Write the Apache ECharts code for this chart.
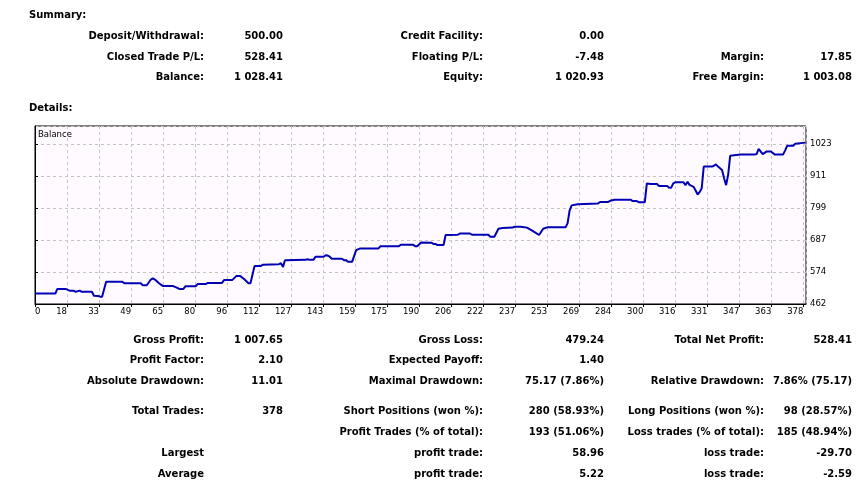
<!DOCTYPE html>
<html>
<head>
<meta charset="utf-8">
<script src="https://cdn.jsdelivr.net/npm/echarts@6/dist/echarts.min.js"></script>
<style>
html,body{margin:0;padding:0;background:#fff;}
#c{width:865px;height:486px;}
</style>
</head>
<body>
<div id="c"></div>
<script>
// ---- data ----
const tradeIdx = [0,10,11,15,17,19,20,22,23,28,29,31,32,33,35,43,44,52,53,55,57,58,59,61,63,68,70,71,73,74,79,80,84,85,92,93,97,99,101,103,105,106,108,111,112,120,121,122,123,133,134,135,137,138,142,143,144,145,146,151,152,153,154,156,158,160,169,170,179,180,186,187,188,190,195,196,197,198,201,202,208,209,214,215,223,224,226,228,230,235,236,239,242,245,248,250,252,261,262,263,264,267,277,278,282,283,285,293,294,296,297,300,301,303,306,307,311,312,313,314,315,319,320,321,322,324,325,326,327,328,329,333,334,335,336,338,339,340,341,342,347,354,355,356,358,360,362,364,368,369,370,373,374,379];
const balance = [499,499,515,515,509,509,505,509,505,505,491,490,488,488,540,540,535,535,528,528,548,552,548,535,525,525,519,515,515,524,524,532,532,536,536,546,546,560,560,549,535,535,595,595,600,602,605,592,616,617,619,617,617,628,628,633,632,628,621,621,616,616,610,610,651,657,657,665,665,670,670,665,665,678,677,673,673,669,669,704,705,709,709,705,705,698,698,726,729,730,733,733,730,718,704,726,731,731,745,790,808,812,815,820,820,824,828,828,823,823,819,819,885,883,883,876,876,870,870,885,889,889,879,891,880,873,860,846,855,868,944,944,947,952,944,932,903,879,915,982,986,986,988,1006,988,997,997,986,986,1000,1017,1017,1024,1028];
const xTickLabels = ['0','18','33','49','65','80','96','112','127','143','159','175','190','206','222','237','253','269','284','300','316','331','347','363','378'];
const yTickLabels = ['462','574','687','799','911','1023'];

const summaryTitle = 'Summary:';
const detailsTitle = 'Details:';
const summaryRows = [
  [['Deposit/Withdrawal:','500.00'],['Credit Facility:','0.00'],null],
  [['Closed Trade P/L:','528.41'],['Floating P/L:','-7.48'],['Margin:','17.85']],
  [['Balance:','1 028.41'],['Equity:','1 020.93'],['Free Margin:','1 003.08']]
];
const detailRows = [
  [['Gross Profit:','1 007.65'],['Gross Loss:','479.24'],['Total Net Profit:','528.41']],
  [['Profit Factor:','2.10'],['Expected Payoff:','1.40'],null],
  [['Absolute Drawdown:','11.01'],['Maximal Drawdown:','75.17 (7.86%)'],['Relative Drawdown:','7.86% (75.17)']],
  [['Total Trades:','378'],['Short Positions (won %):','280 (58.93%)'],['Long Positions (won %):','98 (28.57%)']],
  [null,['Profit Trades (% of total):','193 (51.06%)'],['Loss trades (% of total):','185 (48.94%)']],
  [['Largest',''],['profit trade:','58.96'],['loss trade:','-29.70']],
  [['Average',''],['profit trade:','5.22'],['loss trade:','-2.59']]
];

// ---- layout ----
const labelRight = [204, 483, 764];
const valueRight = [283, 604, 852];
const summaryY = [36, 57, 77];
const detailY = [340, 360, 381, 411, 432, 453, 474];
const boldFont = {fontFamily:'"DejaVu Sans"', fontWeight:'bold', fontSize:10, fill:'#000'};

const graphics = [];
function addText(t, x, y, align, extra){
  graphics.push({type:'text', silent:true, style:Object.assign({text:t, x:x, y:y, align:align, verticalAlign:'middle'}, boldFont, extra||{})});
}
addText(summaryTitle, 29, 15, 'left');
addText(detailsTitle, 29, 108, 'left');
function addRows(rows, ys){
  rows.forEach((row, r) => {
    row.forEach((cell, c) => {
      if (!cell) return;
      addText(cell[0], labelRight[c], ys[r], 'right');
      if (cell[1]) addText(cell[1], valueRight[c], ys[r], 'right');
    });
  });
}
addRows(summaryRows, summaryY);
addRows(detailRows, detailY);
graphics.push({type:'text', silent:true, z:10, style:{text:'Balance', x:38, y:135, align:'left', verticalAlign:'middle', fontFamily:'"DejaVu Sans"', fontSize:8.5, fill:'#000'}});

const X_STEP = 15.75, Y_MIN = 462.2, Y_STEP = 112.2;

const chart = echarts.init(document.getElementById('c'));
chart.setOption({
  animation:false,
  backgroundColor:'#fff',
  grid:{left:35, right:59, top:126, bottom:182, show:true, backgroundColor:'#FFFAFF', borderColor:'#000', borderWidth:1},
  xAxis:{
    type:'value', min:0, max:379.3, interval:X_STEP,
    axisLine:{show:true, onZero:false, lineStyle:{color:'#000', width:1}},
    axisTick:{show:true, length:3, lineStyle:{color:'#000'}},
    splitLine:{show:true, lineStyle:{color:'#C8C2C8', type:[3,3], width:1}},
    axisLabel:{
      margin:3, align:'right', alignMinLabel:'left', showMaxLabel:false,
      color:'#000', fontFamily:'"DejaVu Sans"', fontSize:8.5,
      formatter:v => { const k = Math.round(v / X_STEP); return xTickLabels[k] !== undefined ? xTickLabels[k] : ''; }
    }
  },
  yAxis:{
    type:'value', position:'right', min:Y_MIN, max:1086.3, interval:Y_STEP,
    axisLine:{show:true, lineStyle:{color:'#000', width:1}},
    axisTick:{show:true, length:3, lineStyle:{color:'#000'}},
    splitLine:{show:true, lineStyle:{color:'#C8C2C8', type:[3,3], width:1}},
    axisLabel:{
      margin:4, showMaxLabel:false, color:'#000', fontFamily:'"DejaVu Sans"', fontSize:8.5,
      formatter:v => { const k = Math.round((v - Y_MIN) / Y_STEP); return yTickLabels[k] !== undefined ? yTickLabels[k] : ''; }
    }
  },
  series:[{
    type:'line', data:tradeIdx.map((x,i)=>[x, balance[i]]),
    symbol:'none', smooth:false, clip:true,
    lineStyle:{color:'#0000B4', width:2}
  }],
  graphic:graphics
});
</script>
</body>
</html>
